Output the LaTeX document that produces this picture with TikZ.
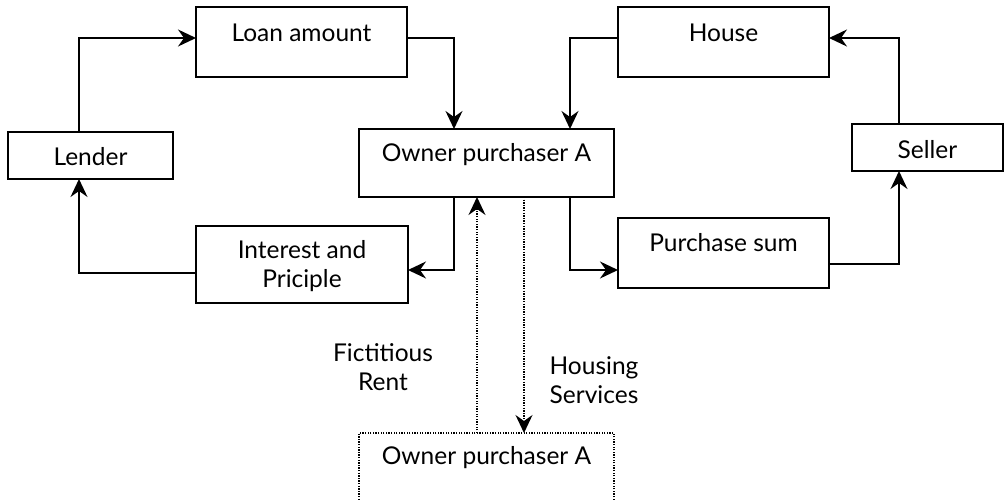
\documentclass[tikz,border=0pt]{standalone}
\usepackage{fontspec}
\setmainfont{Lato}
\usetikzlibrary{arrows.meta}
\tikzset{
  box/.style={draw, line width=1.6pt, rectangle, inner sep=0pt, outer sep=0pt},
  dbox/.style={draw, line width=1.3pt, dash pattern=on 1.3pt off 1.3pt, rectangle, inner sep=0pt, outer sep=0pt},
  txt/.style={inner sep=0pt, align=center, font=\fontsize{24.5}{29}\selectfont},
  arr/.style={line width=1.6pt, -{Stealth[length=18pt,width=17pt,inset=6pt]}},
  darr/.style={line width=1.3pt, dash pattern=on 1.3pt off 1.3pt, -{Stealth[length=18pt,width=17pt,inset=6pt]}}
}
\begin{document}
\begin{tikzpicture}[x=1pt,y=-1pt]
\useasboundingbox (0,0) rectangle (1005,501);
\clip (0,0) rectangle (1005,501);
\fill[white] (0,0) rectangle (1005,501);
% boxes
\node[box, minimum width=211, minimum height=70] (loan) at (301.5,42) {};
\node[box, minimum width=165, minimum height=47] (lender) at (90.5,155.5) {};
\node[box, minimum width=255, minimum height=68] (owner) at (486.5,163) {};
\node[box, minimum width=211, minimum height=70] (house) at (723.5,42) {};
\node[box, minimum width=151, minimum height=47] (seller) at (927.5,147.5) {};
\node[box, minimum width=212, minimum height=77] (interest) at (302,264.5) {};
\node[box, minimum width=211, minimum height=70] (purchase) at (723.5,253) {};
\node[dbox, minimum width=255, minimum height=90] (owner2) at (486.5,478) {};
% texts
\node[txt] (tloan) at (301.5,33) {Loan amount};
\node[txt] (tlender) at (90.5,157) {Lender};
\node[txt] (towner) at (486.5,155) {Owner purchaser A};
\node[txt] (thouse) at (723.5,33) {House};
\node[txt] (tseller) at (927.5,150) {Seller};
\node[txt] (tinterest) at (302,266) {Interest and\\Priciple};
\node[txt] (tpurchase) at (723.5,243) {Purchase sum};
\node[txt] (towner2) at (486.5,458) {Owner purchaser A};
\node[txt] (trent) at (383,367) {Fictitious\\Rent};
\node[txt] (tserv) at (594,380) {Housing\\Services};
% connectors
\draw[arr] (79,0 |- lender.north) |- (loan.west |- 0,38);
\draw[arr] (loan.east |- 0,38) -| (454,0 |- owner.north);
\draw[arr] (house.west |- 0,38) -| (570,0 |- owner.north);
\draw[arr] (899,0 |- seller.north) |- (house.east |- 0,38);
\draw[arr] (454,0 |- owner.south) |- (interest.east |- 0,270);
\draw[arr] (interest.west |- 0,273) -| (79,0 |- lender.south);
\draw[arr] (570,0 |- owner.south) |- (purchase.west |- 0,270);
\draw[arr] (purchase.east |- 0,264) -| (899,0 |- seller.south);
\draw[darr] (477,0 |- owner2.north) -- (477,0 |- owner.south);
\draw[darr] (524,0 |- owner.south) -- (524,0 |- owner2.north);
\end{tikzpicture}
\end{document}
